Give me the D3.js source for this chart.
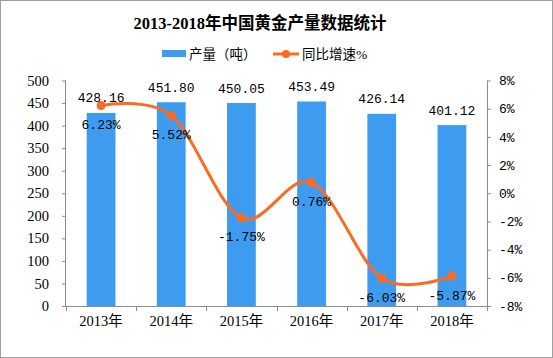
<!DOCTYPE html>
<html><head><meta charset="utf-8">
<script src="https://cdn.jsdelivr.net/npm/d3@7"></script>
<style>body{margin:0;background:#fff}svg{display:block}</style>
</head><body>
<svg id="c" width="553" height="358"></svg>
<script>
const years = ["2013年","2014年","2015年","2016年","2017年","2018年"];
const output = [428.16, 451.80, 450.05, 453.49, 426.14, 401.12];
const growth = [6.23, 5.52, -1.75, 0.76, -6.03, -5.87];
const leftTicks = [0,50,100,150,200,250,300,350,400,450,500];
const rightTicks = [-8,-6,-4,-2,0,2,4,6,8];
const title = "2013-2018年中国黄金产量数据统计";
const seriesNames = ["产量（吨）","同比增速%"];

const svg = d3.select("#c");
const W=553,H=358;
const L=66,R=487,T=80.5,B=306;
const barColor="#3d9cf0", lineColor="#fd6a22", axisColor="#8c8c8c";
const serif = "'Liberation Serif','Noto Sans CJK SC',serif";
const mono = "'Liberation Mono','DejaVu Sans Mono',monospace";

svg.append("rect").attr("x",0.5).attr("y",0.5).attr("width",W-1).attr("height",H-1)
  .attr("fill","#fff").attr("stroke","#a0a0a0");

const x = d3.scaleBand().domain(years).range([L,R]).paddingInner(0.59).paddingOuter(0.295);
const xb = d3.scaleBand().domain(years).range([L,R]).padding(0);
const y = d3.scaleLinear().domain([0,500]).range([B,T]);
const y2 = d3.scaleLinear().domain([-8,8]).range([B,T]);

// bars
svg.append("g").selectAll("rect").data(output).join("rect")
  .attr("x",(d,i)=>x(years[i])).attr("width",x.bandwidth())
  .attr("y",d=>y(d)).attr("height",d=>B-y(d)).attr("fill",barColor);

// left axis
const ga = svg.append("g").attr("transform",`translate(${L},0)`)
  .call(d3.axisLeft(y).tickValues(leftTicks).tickSize(4).tickPadding(13));
ga.select(".domain").attr("stroke",axisColor).attr("d",`M-0.5,${T}V${B}`);
ga.selectAll(".tick line").attr("stroke",axisColor);
ga.selectAll(".tick text").attr("font-family",serif).attr("font-size",14.5).attr("fill","#000");

// right axis
const gr = svg.append("g").attr("transform",`translate(${R},0)`)
  .call(d3.axisRight(y2).tickValues(rightTicks).tickSize(4).tickPadding(8).tickFormat(d=>d+"%"));
gr.select(".domain").attr("stroke",axisColor).attr("d",`M0.5,${T}V${B}`);
gr.selectAll(".tick line").attr("stroke",axisColor);
gr.selectAll(".tick text").attr("font-family",mono).attr("font-size",13).attr("fill","#000");

// bottom axis
const gb = svg.append("g").attr("transform",`translate(0,${B})`)
  .call(d3.axisBottom(xb).tickSize(0).tickPadding(10));
gb.select(".domain").attr("stroke",axisColor).attr("d",`M${L},0.5H${R}`);
gb.selectAll(".tick text").attr("font-family",serif).attr("font-size",14.5).attr("fill","#000");
const bounds = years.map(d=>xb(d)).concat([R]);
gb.selectAll("line.b").data(bounds).join("line").attr("class","b")
  .attr("x1",d=>Math.round(d)+0.5).attr("x2",d=>Math.round(d)+0.5).attr("y1",0).attr("y2",5)
  .attr("stroke",axisColor);

// line
const cx = (d,i)=>x(years[i])+x.bandwidth()/2;
const line = d3.line().x(cx).y(d=>y2(d)).curve(d3.curveCardinal.tension(0));
svg.append("path").datum(growth).attr("d",line).attr("fill","none")
  .attr("stroke",lineColor).attr("stroke-width",3);
svg.append("g").selectAll("circle").data(growth).join("circle")
  .attr("cx",cx).attr("cy",d=>y2(d)).attr("r",4.5).attr("fill",lineColor);

// bar labels
svg.append("g").selectAll("text").data(output).join("text")
  .attr("x",cx).attr("y",d=>y(d)-15).attr("dy","0.35em").attr("text-anchor","middle")
  .attr("font-family",mono).attr("font-size",13).text(d=>d.toFixed(2));
// line labels
svg.append("g").selectAll("text").data(growth).join("text")
  .attr("x",cx).attr("y",d=>y2(d)+19).attr("dy","0.35em").attr("text-anchor","middle")
  .attr("font-family",mono).attr("font-size",13).text(d=>d.toFixed(2)+"%");

// title
svg.append("text").attr("x",260).attr("y",23).attr("dy","0.35em").attr("text-anchor","middle")
  .attr("font-family",serif).attr("font-weight","bold").attr("font-size",16.5).text(title);

// legend
const lg = svg.append("g");
lg.append("rect").attr("x",162).attr("y",50).attr("width",24).attr("height",7).attr("fill",barColor);
lg.append("text").attr("x",189).attr("y",54).attr("dy","0.35em").attr("font-family",serif)
  .attr("font-size",13.5).text(seriesNames[0]);
lg.append("line").attr("x1",273).attr("x2",299).attr("y1",54).attr("y2",54).attr("stroke",lineColor).attr("stroke-width",3);
lg.append("circle").attr("cx",286).attr("cy",54).attr("r",4).attr("fill",lineColor);
lg.append("text").attr("x",302).attr("y",54).attr("dy","0.35em").attr("font-family",serif)
  .attr("font-size",13.5).text(seriesNames[1]);
</script>
</body></html>
